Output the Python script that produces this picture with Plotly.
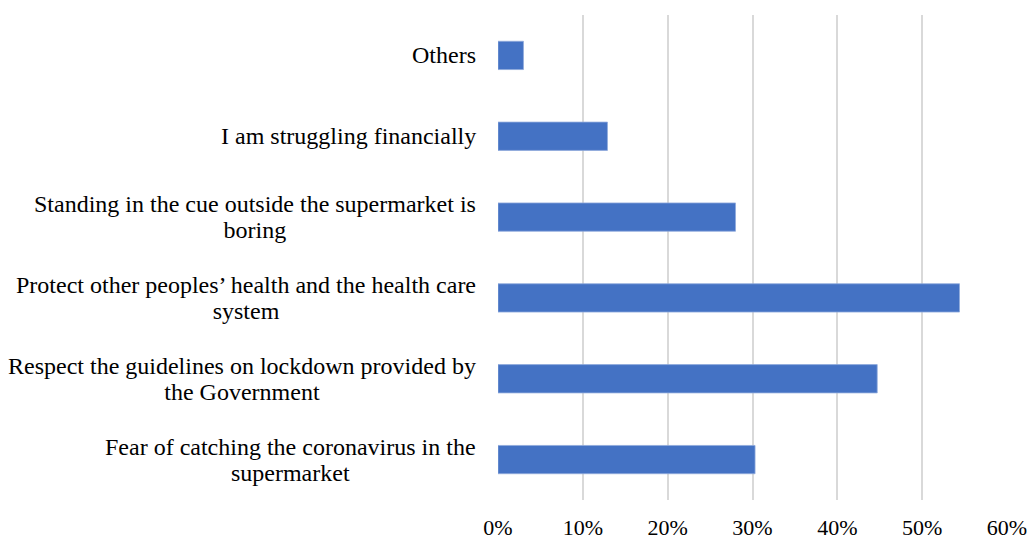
import plotly.graph_objects as go

# Survey reasons, bottom-to-top order as drawn
reasons = [
    "Fear of catching the coronavirus in the<br>supermarket",
    "Respect the guidelines on lockdown provided by<br>the Government",
    "Protect other peoples’ health and the health care<br>system",
    "Standing in the cue outside the supermarket is<br>boring",
    "I am struggling financially",
    "Others",
]
shares = [0.303, 0.447, 0.544, 0.280, 0.129, 0.030]
tick_values = [0, 0.1, 0.2, 0.3, 0.4, 0.5, 0.6]
tick_labels = ["0%", "10%", "20%", "30%", "40%", "50%", "60%"]

FONT = "Liberation Serif, Times New Roman, serif"

fig = go.Figure(
    go.Bar(
        x=shares,
        y=list(range(len(reasons))),
        orientation="h",
        marker=dict(color="#4472C4", line=dict(color="#8FAADC", width=0.8)),
        width=0.35,
        hoverinfo="skip",
    )
)

# Category labels: centred multi-line text, right-aligned against the axis.
# The outer font size sets the line pitch; the inner span sets the glyph size.
for i, label in enumerate(reasons):
    fig.add_annotation(
        x=0, xref="paper", y=i, yref="y",
        text="<br>".join(
            f"<span style='font-size:24px'>{part}</span>" for part in label.split("<br>")
        ),
        showarrow=False,
        xanchor="right", yanchor="middle", align="center",
        xshift=-20,
        font=dict(family=FONT, size=20, color="#000000"),
    )

fig.update_layout(
    width=1030, height=541,
    margin=dict(l=498, r=23, t=15, b=41),
    paper_bgcolor="white", plot_bgcolor="white",
    showlegend=False,
    font=dict(family=FONT, size=20, color="#000000"),
)
fig.update_xaxes(
    range=[0, 0.6],
    tickvals=tick_values, ticktext=tick_labels,
    showgrid=True, gridcolor="#D9D9D9", gridwidth=1.5,
    zeroline=False, showline=False,
    ticks="", ticklabelstandoff=12,
    automargin=False,
    tickfont=dict(family=FONT, size=22, color="#000000"),
)
fig.update_yaxes(
    range=[-0.5, len(reasons) - 0.5],
    automargin=False,
    showticklabels=False, showgrid=False, zeroline=False, showline=False,
)

fig.write_html("out.html")
